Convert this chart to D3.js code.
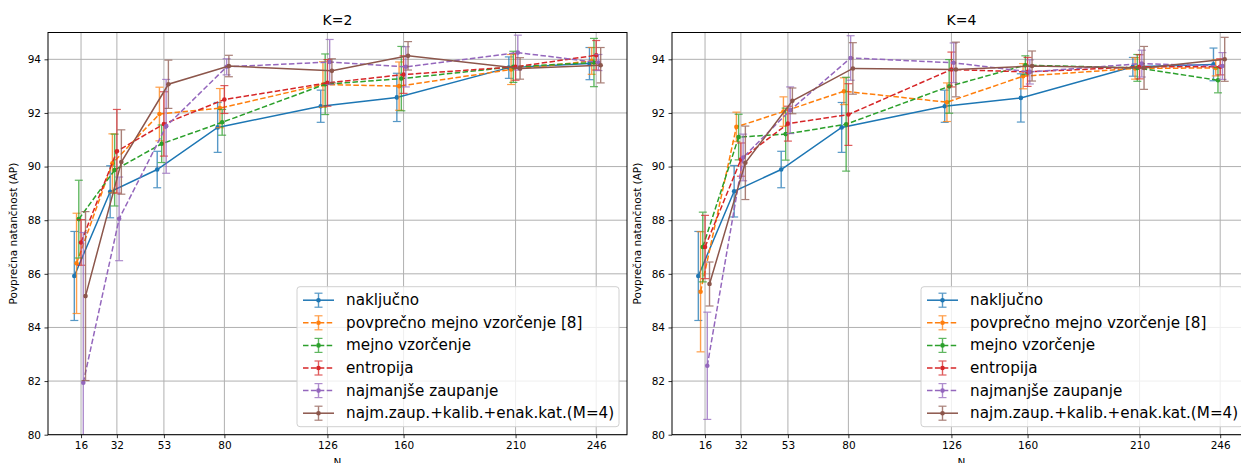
<!DOCTYPE html>
<html>
<head>
<meta charset="utf-8">
<script src="https://cdn.jsdelivr.net/npm/d3@7"></script>
<style>
  body { margin: 0; background: #fff; }
  text { font-family: "DejaVu Sans", sans-serif; }
</style>
</head>
<body>
<div id="chart"></div>
<script>
const nValues = [16, 32, 53, 80, 126, 160, 210, 246];
const yTicks = [80, 82, 84, 86, 88, 90, 92, 94];

const seriesNames = [
  "naključno",
  "povprečno mejno vzorčenje [8]",
  "mejno vzorčenje",
  "entropija",
  "najmanjše zaupanje",
  "najm.zaup.+kalib.+enak.kat.(M=4)",
];
const seriesColors = ["#1f77b4", "#ff7f0e", "#2ca02c", "#d62728", "#9467bd", "#8c564b"];
const seriesDashed = [false, true, true, true, true, false];
const seriesOffset = [-3, -2, -1, 0, 1, 2];

// K=2 means and errors (one row per series)
const k2Mean = [
  [85.92, 89.06, 89.89, 91.46, 92.25, 92.58, 93.69, 93.84],
  [86.39, 90.12, 91.96, 92.18, 93.06, 93.0, 93.62, 93.94],
  [88.04, 89.87, 90.85, 91.65, 93.07, 93.28, 93.72, 93.88],
  [87.17, 90.57, 91.59, 92.5, 93.12, 93.43, 93.72, 94.15],
  [81.94, 88.05, 91.5, 93.72, 93.9, 93.72, 94.25, 93.88],
  [85.17, 90.17, 93.07, 93.75, 93.57, 94.13, 93.66, 93.78],
];
const k2Err = [
  [1.66, 0.97, 0.68, 0.93, 0.6, 0.9, 0.4, 0.6],
  [1.87, 1.1, 1.0, 0.73, 0.85, 0.9, 0.56, 0.5],
  [1.45, 1.34, 0.7, 0.48, 1.13, 1.2, 0.58, 0.9],
  [0.85, 1.56, 1.2, 0.52, 0.87, 0.7, 0.5, 0.55],
  [5.6, 1.56, 1.75, 0.3, 0.84, 0.75, 0.65, 0.3],
  [3.15, 1.2, 0.9, 0.4, 0.45, 0.53, 0.4, 0.66],
];

// K=4 means and errors
const k4Mean = [
  [85.92, 89.08, 89.89, 91.46, 92.25, 92.56, 93.72, 93.81],
  [85.33, 91.48, 92.05, 92.81, 92.4, 93.37, 93.66, 93.68],
  [87.0, 91.1, 91.21, 91.58, 92.99, 93.78, 93.68, 93.22],
  [87.0, 90.26, 91.6, 91.94, 93.62, 93.53, 93.72, 93.72],
  [82.57, 90.34, 92.1, 94.05, 93.87, 93.53, 93.84, 93.75],
  [85.62, 90.14, 92.45, 93.66, 93.62, 93.75, 93.68, 94.0],
];
const k4Err = [
  [1.66, 0.96, 0.68, 0.93, 0.6, 0.9, 0.35, 0.61],
  [2.24, 0.55, 0.55, 0.5, 0.72, 0.47, 0.4, 0.3],
  [1.3, 0.85, 0.97, 1.75, 1.0, 0.35, 0.5, 0.47],
  [1.18, 0.62, 0.65, 1.15, 0.65, 0.54, 0.45, 0.3],
  [2.0, 0.87, 0.87, 0.83, 0.74, 0.45, 0.5, 0.5],
  [0.82, 1.37, 0.48, 0.96, 1.02, 0.56, 0.8, 0.82],
];

const panels = [
  { title: "K=2", left: 48, mean: k2Mean, err: k2Err },
  { title: "K=4", left: 672, mean: k4Mean, err: k4Err },
];

const W = 1241, H = 463;
const axW = 579, axTop = 32.5, axBottom = 434.7;

const svg = d3.select("#chart").append("svg")
  .attr("width", W)
  .attr("height", H);

panels.forEach((p, pi) => {
  const x = d3.scaleLinear().domain([1.25, 259.75]).range([p.left, p.left + axW]);
  const y = d3.scaleLinear().domain([80, 95]).range([axBottom, axTop]);

  const g = svg.append("g");

  // clip for data
  const clipId = "clip" + pi;
  svg.append("clipPath").attr("id", clipId)
    .append("rect")
    .attr("x", p.left).attr("y", axTop)
    .attr("width", axW).attr("height", axBottom - axTop);

  // grid
  g.append("g").selectAll("line.vx").data(nValues).join("line")
    .attr("x1", d => x(d)).attr("x2", d => x(d))
    .attr("y1", axTop).attr("y2", axBottom)
    .attr("stroke", "#b0b0b0").attr("stroke-width", 1);
  g.append("g").selectAll("line.hy").data(yTicks).join("line")
    .attr("x1", p.left).attr("x2", p.left + axW)
    .attr("y1", d => y(d)).attr("y2", d => y(d))
    .attr("stroke", "#b0b0b0").attr("stroke-width", 1);

  // series
  const plot = g.append("g").attr("clip-path", `url(#${clipId})`);
  seriesNames.forEach((name, si) => {
    const pts = nValues.map((n, i) => ({
      x: n + seriesOffset[si],
      m: p.mean[si][i],
      e: p.err[si][i],
    }));
    const col = seriesColors[si];
    const s = plot.append("g");

    // error bars
    const eb = s.append("g").attr("opacity", 0.75);
    eb.selectAll("line.bar").data(pts).join("line")
      .attr("x1", d => x(d.x)).attr("x2", d => x(d.x))
      .attr("y1", d => y(d.m - d.e)).attr("y2", d => y(d.m + d.e))
      .attr("stroke", col).attr("stroke-width", 1.4);
    eb.selectAll("line.capTop").data(pts).join("line")
      .attr("x1", d => x(d.x) - 4).attr("x2", d => x(d.x) + 4)
      .attr("y1", d => y(d.m + d.e)).attr("y2", d => y(d.m + d.e))
      .attr("stroke", col).attr("stroke-width", 1.2);
    eb.selectAll("line.capBot").data(pts).join("line")
      .attr("x1", d => x(d.x) - 4).attr("x2", d => x(d.x) + 4)
      .attr("y1", d => y(d.m - d.e)).attr("y2", d => y(d.m - d.e))
      .attr("stroke", col).attr("stroke-width", 1.2);

    // line
    s.append("path")
      .datum(pts)
      .attr("fill", "none")
      .attr("stroke", col)
      .attr("stroke-width", 1.5)
      .attr("stroke-dasharray", seriesDashed[si] ? "5.5,2.4" : null)
      .attr("d", d3.line().x(d => x(d.x)).y(d => y(d.m)));

    // markers
    s.selectAll("circle").data(pts).join("circle")
      .attr("cx", d => x(d.x)).attr("cy", d => y(d.m))
      .attr("r", 2.3)
      .attr("fill", col);
  });

  // axes
  const xAxis = g.append("g")
    .attr("transform", `translate(0, ${axBottom})`)
    .call(d3.axisBottom(x).tickValues(nValues).tickSize(3.5).tickPadding(3.5));
  const yAxis = g.append("g")
    .attr("transform", `translate(${p.left}, 0)`)
    .call(d3.axisLeft(y).tickValues(yTicks).tickSize(3.5).tickPadding(3.5));
  [xAxis, yAxis].forEach(a => {
    a.select(".domain").remove();
    a.selectAll("text").attr("font-size", "10.5px").attr("fill", "#000")
      .attr("font-family", "DejaVu Sans, sans-serif");
    a.selectAll("line").attr("stroke", "#000").attr("stroke-width", 0.8);
  });

  // frame
  g.append("rect")
    .attr("x", p.left).attr("y", axTop)
    .attr("width", axW).attr("height", axBottom - axTop)
    .attr("fill", "none").attr("stroke", "#000").attr("stroke-width", 1);

  // title and labels
  g.append("text")
    .attr("x", p.left + axW / 2).attr("y", 25)
    .attr("text-anchor", "middle")
    .attr("font-size", "14px")
    .text(p.title);
  g.append("text")
    .attr("x", p.left + axW / 2).attr("y", 466)
    .attr("text-anchor", "middle")
    .attr("font-size", "10.5px")
    .text("N");
  g.append("text")
    .attr("transform", `translate(${p.left - 31.5}, ${(axTop + axBottom) / 2}) rotate(-90)`)
    .attr("text-anchor", "middle")
    .attr("font-size", "10.5px")
    .text("Povprečna natančnost (AP)");

  // legend
  const lgW = 322, lgH = 140;
  const lx = p.left + axW - 8 - lgW, ly = axBottom - 8 - lgH;
  const lg = g.append("g");
  lg.append("rect")
    .attr("x", lx).attr("y", ly)
    .attr("width", lgW).attr("height", lgH)
    .attr("rx", 3)
    .attr("fill", "#fff").attr("fill-opacity", 0.8)
    .attr("stroke", "#d0d0d0");
  seriesNames.forEach((name, si) => {
    const cy = ly + 13.5 + si * 22.6;
    const col = seriesColors[si];
    const hx0 = lx + 6, hx1 = lx + 37, hc = (hx0 + hx1) / 2;
    lg.append("line")
      .attr("x1", hx0).attr("x2", hx1).attr("y1", cy).attr("y2", cy)
      .attr("stroke", col).attr("stroke-width", 1.5)
      .attr("stroke-dasharray", seriesDashed[si] ? "5.5,2.4" : null);
    const le = lg.append("g").attr("opacity", 0.75).attr("stroke", col);
    le.append("line").attr("x1", hc).attr("x2", hc).attr("y1", cy - 7).attr("y2", cy + 7).attr("stroke-width", 1.4);
    le.append("line").attr("x1", hc - 4).attr("x2", hc + 4).attr("y1", cy - 7).attr("y2", cy - 7).attr("stroke-width", 1.2);
    le.append("line").attr("x1", hc - 4).attr("x2", hc + 4).attr("y1", cy + 7).attr("y2", cy + 7).attr("stroke-width", 1.2);
    lg.append("circle").attr("cx", hc).attr("cy", cy).attr("r", 2.3).attr("fill", col);
    lg.append("text")
      .attr("x", lx + 49).attr("y", cy)
      .attr("dominant-baseline", "central")
      .attr("font-size", "15.2px")
      .text(name);
  });
});
</script>
</body>
</html>
